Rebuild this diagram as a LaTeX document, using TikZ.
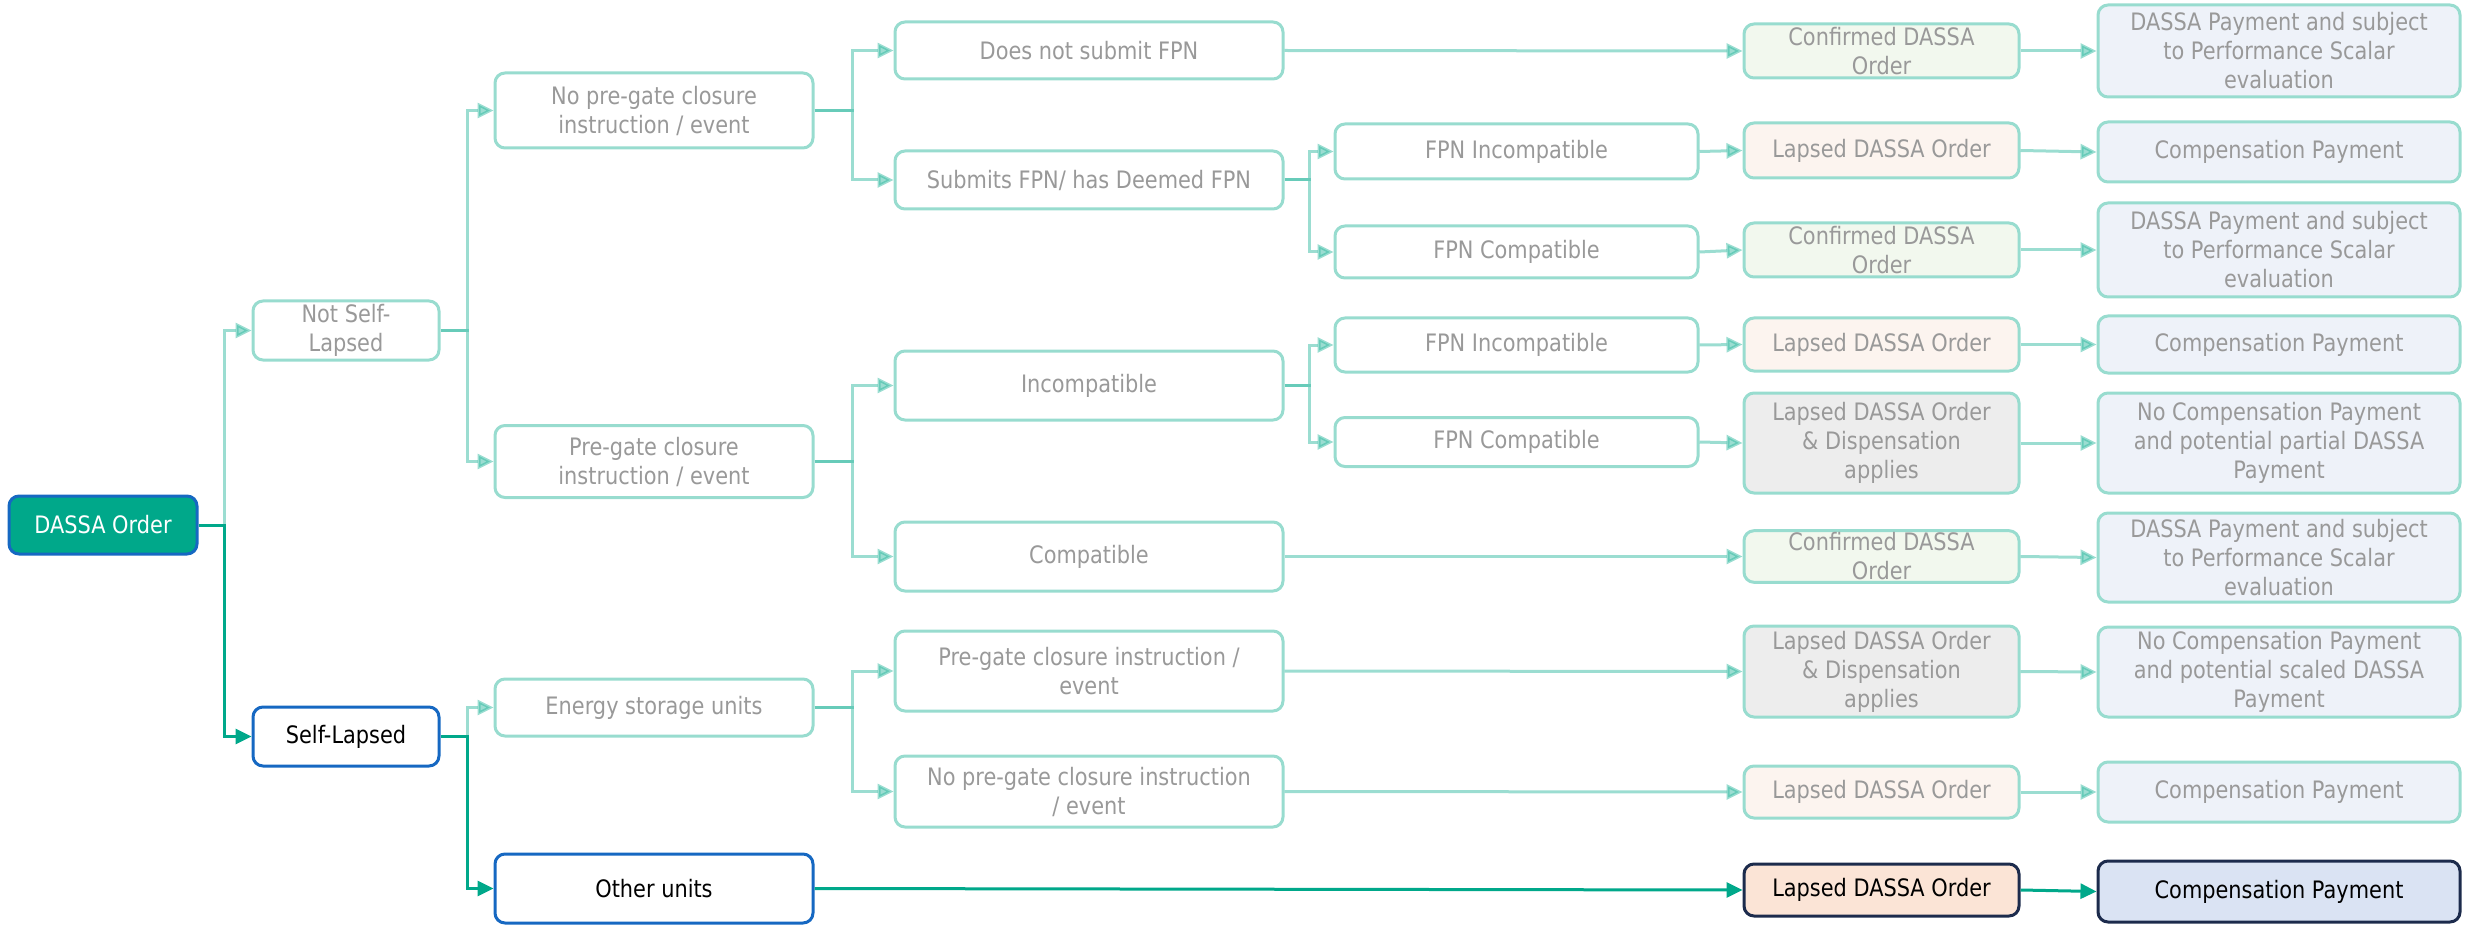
\documentclass[tikz,border=0pt]{standalone}
\usepackage{fontspec}
\setmainfont{DejaVu Sans}[FakeStretch=0.87]
\usetikzlibrary{arrows.meta}

\definecolor{tealline}{HTML}{2EB89F}
\definecolor{lightedge}{HTML}{98DCCF}
\definecolor{greytext}{HTML}{999999}
\definecolor{darkteal}{HTML}{00A88A}
\definecolor{blueedge}{HTML}{1668C2}
\definecolor{navyedge}{HTML}{1C2B4C}
\definecolor{greenfill}{HTML}{F2F8EE}
\definecolor{peachfill}{HTML}{FCF4EF}
\definecolor{greyfill}{HTML}{EDEDED}
\definecolor{paleblue}{HTML}{EEF2F9}
\definecolor{peachdark}{HTML}{FBE4D6}
\definecolor{bluedark}{HTML}{DAE3F3}

\tikzset{
  box/.style={rectangle, rounded corners=10pt, line width=3pt, align=center,
    inner sep=2pt, font=\fontsize{24}{29}\selectfont},
  lbox/.style={box, draw=lightedge, fill=white, text=greytext},
  okbox/.style={lbox, fill=greenfill},
  lapbox/.style={lbox, fill=peachfill},
  dispbox/.style={lbox, fill=greyfill},
  paybox/.style={lbox, fill=paleblue},
  rootbox/.style={box, draw=blueedge, fill=darkteal, text=white},
  selbox/.style={box, draw=blueedge, fill=white, text=black},
  lapdark/.style={box, draw=navyedge, fill=peachdark, text=black},
  paydark/.style={box, draw=navyedge, fill=bluedark, text=black},
  lconn/.style={draw=tealline, opacity=0.48, line width=3pt,
    -{Triangle[length=16pt,width=15pt]}},
  dconn/.style={draw=darkteal, line width=3pt,
    -{Triangle[length=16pt,width=15pt]}},
}

\begin{document}
\begin{tikzpicture}[x=1pt,y=-1pt]
\useasboundingbox (0,0) rectangle (2466,925);

% bus positions of the branching connectors
\coordinate (b0) at (224,0);
\coordinate (b1) at (467,0);
\coordinate (b2) at (852,0);
\coordinate (b3) at (1309,0);

% level 0 and 1
\node[rootbox, minimum width=188pt, minimum height=58pt] (root) at (103,525) {DASSA Order};
\node[lbox, minimum width=186pt, minimum height=59pt] (nsl) at (346,330.5) {Not Self-\\Lapsed};
\node[selbox, minimum width=186pt, minimum height=59pt] (sl) at (346,736.5) {Self-Lapsed};

% level 2
\node[lbox, minimum width=318pt, minimum height=75pt] (npg) at (654,110.5) {No pre-gate closure\\instruction / event};
\node[lbox, minimum width=318pt, minimum height=72pt] (pg) at (654,461.5) {Pre-gate closure\\instruction / event};
\node[lbox, minimum width=318pt, minimum height=57pt] (esu) at (654,707.5) {Energy storage units};
\node[selbox, minimum width=318pt, minimum height=69pt] (ou) at (654,888.5) {Other units};

% level 3
\node[lbox, minimum width=388pt, minimum height=57pt] (dns) at (1089,50.5) {Does not submit FPN};
\node[lbox, minimum width=388pt, minimum height=58pt] (sub) at (1089,180) {Submits FPN/ has Deemed FPN};
\node[lbox, minimum width=388pt, minimum height=69pt] (inc) at (1089,385.5) {Incompatible};
\node[lbox, minimum width=388pt, minimum height=69pt] (cmp) at (1089,556.5) {Compatible};
\node[lbox, minimum width=388pt, minimum height=80pt] (pgc) at (1089,671) {Pre-gate closure instruction /\\event};
\node[lbox, minimum width=388pt, minimum height=71pt] (npgc) at (1089,791.5) {No pre-gate closure instruction\\/ event};

% level 4
\node[lbox, minimum width=363pt, minimum height=55pt] (fia) at (1516.5,151.5) {FPN Incompatible};
\node[lbox, minimum width=363pt, minimum height=52pt] (fca) at (1516.5,252) {FPN Compatible};
\node[lbox, minimum width=363pt, minimum height=54pt] (fib) at (1516.5,345) {FPN Incompatible};
\node[lbox, minimum width=363pt, minimum height=49pt] (fcb) at (1516.5,442) {FPN Compatible};

% level 5: order outcome
\node[okbox, minimum width=275pt, minimum height=54pt] (oa) at (1881.5,51) {Confirmed DASSA\\Order};
\node[lapbox, minimum width=275pt, minimum height=55pt] (ob) at (1881.5,150.5) {Lapsed DASSA Order};
\node[okbox, minimum width=275pt, minimum height=54pt] (oc) at (1881.5,250) {Confirmed DASSA\\Order};
\node[lapbox, minimum width=275pt, minimum height=53pt] (od) at (1881.5,344.5) {Lapsed DASSA Order};
\node[dispbox, minimum width=275pt, minimum height=100pt] (oe) at (1881.5,443) {Lapsed DASSA Order\\\& Dispensation\\applies};
\node[okbox, minimum width=275pt, minimum height=51pt] (of) at (1881.5,556.5) {Confirmed DASSA\\Order};
\node[dispbox, minimum width=275pt, minimum height=91pt] (og) at (1881.5,671.5) {Lapsed DASSA Order\\\& Dispensation\\applies};
\node[lapbox, minimum width=275pt, minimum height=52pt] (oh) at (1881.5,792) {Lapsed DASSA Order};
\node[lapdark, minimum width=275pt, minimum height=52pt] (oi) at (1881.5,890) {Lapsed DASSA Order};

% level 6: payment outcome
\node[paybox, minimum width=362pt, minimum height=92pt] (pa) at (2279,51) {DASSA Payment and subject\\to Performance Scalar\\evaluation};
\node[paybox, minimum width=362pt, minimum height=60pt] (pb) at (2279,152) {Compensation Payment};
\node[paybox, minimum width=362pt, minimum height=94pt] (pc) at (2279,250) {DASSA Payment and subject\\to Performance Scalar\\evaluation};
\node[paybox, minimum width=362pt, minimum height=57pt] (pd) at (2279,344.5) {Compensation Payment};
\node[paybox, minimum width=362pt, minimum height=100pt] (pe) at (2279,443) {No Compensation Payment\\and potential partial DASSA\\Payment};
\node[paybox, minimum width=362pt, minimum height=89pt] (pf) at (2279,557.5) {DASSA Payment and subject\\to Performance Scalar\\evaluation};
\node[paybox, minimum width=362pt, minimum height=90pt] (pg6) at (2279,672) {No Compensation Payment\\and potential scaled DASSA\\Payment};
\node[paybox, minimum width=362pt, minimum height=60pt] (ph) at (2279,792) {Compensation Payment};
\node[paydark, minimum width=362pt, minimum height=61pt] (pi) at (2279,891.5) {Compensation Payment};

% branching connectors
\draw[lconn] (root.east) -- (b0 |- root.east) |- (nsl.west);
\draw[dconn] (root.east) -- (b0 |- root.east) |- (sl.west);

\draw[lconn] (nsl.east) -- (b1 |- nsl.east) |- (npg.west);
\draw[lconn] (nsl.east) -- (b1 |- nsl.east) |- (pg.west);
\draw[lconn] (sl.east) -- (b1 |- sl.east) |- (esu.west);
\draw[dconn] (sl.east) -- (b1 |- sl.east) |- (ou.west);

\draw[lconn] (npg.east) -- (b2 |- npg.east) |- (dns.west);
\draw[lconn] (npg.east) -- (b2 |- npg.east) |- (sub.west);
\draw[lconn] (pg.east) -- (b2 |- pg.east) |- (inc.west);
\draw[lconn] (pg.east) -- (b2 |- pg.east) |- (cmp.west);
\draw[lconn] (esu.east) -- (b2 |- esu.east) |- (pgc.west);
\draw[lconn] (esu.east) -- (b2 |- esu.east) |- (npgc.west);

\draw[lconn] (sub.east) -- (b3 |- sub.east) |- (fia.west);
\draw[lconn] (sub.east) -- (b3 |- sub.east) |- (fca.west);
\draw[lconn] (inc.east) -- (b3 |- inc.east) |- (fib.west);
\draw[lconn] (inc.east) -- (b3 |- inc.east) |- (fcb.west);

% straight connectors to the order outcome
\draw[lconn] (dns.east) -- (oa.west);
\draw[lconn] (fia.east) -- (ob.west);
\draw[lconn] (fca.east) -- (oc.west);
\draw[lconn] (fib.east) -- (od.west);
\draw[lconn] (fcb.east) -- (oe.west);
\draw[lconn] (cmp.east) -- (of.west);
\draw[lconn] (pgc.east) -- (og.west);
\draw[lconn] (npgc.east) -- (oh.west);
\draw[dconn] (ou.east) -- (oi.west);

% order outcome to payment outcome
\draw[lconn] (oa.east) -- (pa.west);
\draw[lconn] (ob.east) -- (pb.west);
\draw[lconn] (oc.east) -- (pc.west);
\draw[lconn] (od.east) -- (pd.west);
\draw[lconn] (oe.east) -- (pe.west);
\draw[lconn] (of.east) -- (pf.west);
\draw[lconn] (og.east) -- (pg6.west);
\draw[lconn] (oh.east) -- (ph.west);
\draw[dconn] (oi.east) -- (pi.west);
\end{tikzpicture}
\end{document}
